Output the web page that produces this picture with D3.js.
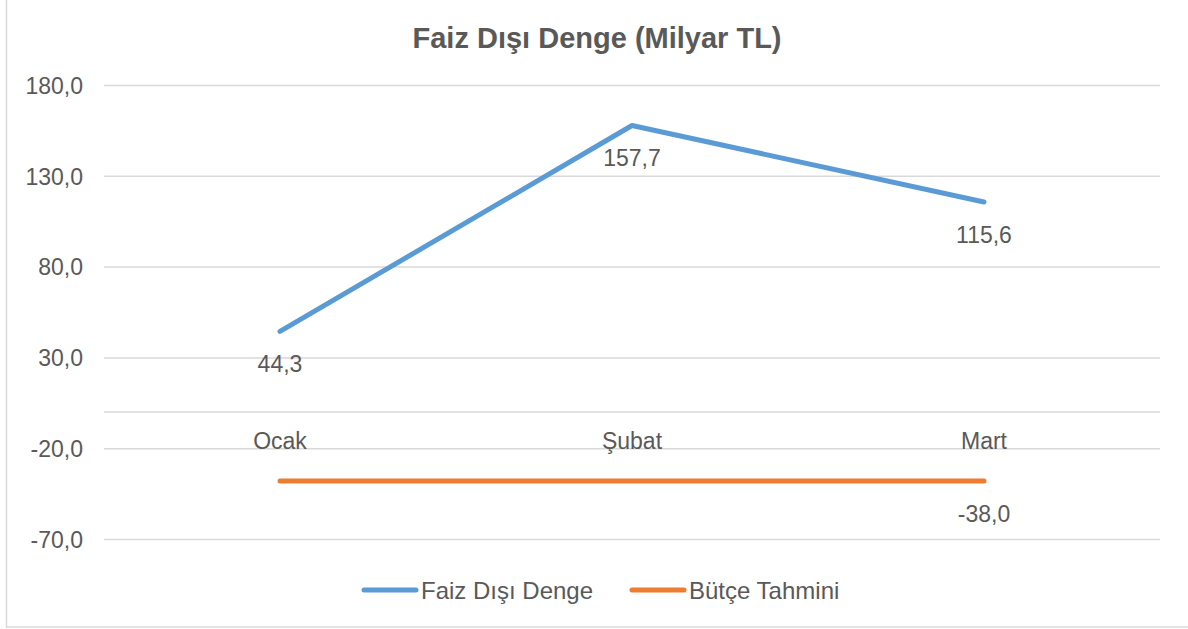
<!DOCTYPE html>
<html>
<head>
<meta charset="utf-8">
<script src="https://cdn.jsdelivr.net/npm/d3@7"></script>
<style>
  body { margin: 0; background: #fff; }
  text { font-family: "Liberation Sans", Arial, sans-serif; fill: #595959; }
</style>
</head>
<body>
<svg id="chart"></svg>
<script>
const categories = ["Ocak", "Şubat", "Mart"];
const faizDisiDenge = [44.3, 157.7, 115.6];
const butceTahmini = [-38.0, -38.0, -38.0];
const yTicks = [180, 130, 80, 30, -20, -70];

const width = 1188, height = 629;
const margin = { top: 85, right: 28, bottom: 90, left: 104 };
// excel style: comma decimal, plain hyphen for minus
const fmt = v => v.toFixed(1).replace(".", ",");

const svg = d3.select("#chart").attr("width", width).attr("height", height);

// outer frame (top and right are cut off in the original)
svg.append("rect")
    .attr("x", 6.5).attr("y", -5)
    .attr("width", width + 10).attr("height", 632)
    .attr("fill", "none").attr("stroke", "#d9d9d9").attr("stroke-width", 1.5);

const x = d3.scaleBand()
    .domain(categories)
    .range([margin.left, width - margin.right]);

const y = d3.scaleLinear()
    .domain([-70, 180])
    .range([539, 85]);

// gridlines + tick labels
const yAxis = svg.append("g")
    .attr("transform", `translate(${margin.left},0)`)
    .call(d3.axisLeft(y).tickValues(yTicks).tickSize(-(width - margin.right - margin.left)).tickFormat(fmt));
yAxis.select(".domain").remove();
yAxis.selectAll(".tick line").attr("stroke", "#d9d9d9").attr("stroke-width", 1.5);
yAxis.selectAll(".tick text")
    .attr("x", -21).attr("dy", "0.36em")
    .attr("font-size", 23).style("fill", "#595959");

// category axis at zero
svg.append("line")
    .attr("x1", margin.left).attr("x2", width - margin.right)
    .attr("y1", y(0)).attr("y2", y(0))
    .attr("stroke", "#d9d9d9").attr("stroke-width", 1.5);
svg.append("g").selectAll("text")
    .data(categories).join("text")
    .attr("x", d => x(d) + x.bandwidth() / 2)
    .attr("y", y(0) + 37)
    .attr("text-anchor", "middle")
    .attr("font-size", 23)
    .text(d => d);

// title
svg.append("text")
    .attr("x", 597).attr("y", 48)
    .attr("text-anchor", "middle")
    .attr("font-size", 29).attr("font-weight", "bold")
    .text("Faiz Dışı Denge (Milyar TL)");

const line = d3.line()
    .x((d, i) => x(categories[i]) + x.bandwidth() / 2)
    .y(d => y(d));

const series = [
    { name: "Faiz Dışı Denge", values: faizDisiDenge, color: "#5b9bd5", labels: [0, 1, 2] },
    { name: "Bütçe Tahmini", values: butceTahmini, color: "#ed7d31", labels: [2] }
];

series.forEach(s => {
    svg.append("path")
        .datum(s.values)
        .attr("d", line)
        .attr("fill", "none")
        .attr("stroke", s.color)
        .attr("stroke-width", 5)
        .attr("stroke-linecap", "round")
        .attr("stroke-linejoin", "round");
    svg.append("g").selectAll("text")
        .data(s.labels).join("text")
        .attr("x", i => x(categories[i]) + x.bandwidth() / 2)
        .attr("y", i => y(s.values[i]) + 41)
        .attr("text-anchor", "middle")
        .attr("font-size", 23)
        .text(i => fmt(s.values[i]));
});

// legend
const legendX = [364, 632];
const legend = svg.append("g").selectAll("g")
    .data(series).join("g")
    .attr("transform", (d, i) => `translate(${legendX[i]},590)`);
legend.append("line")
    .attr("x1", 0).attr("x2", 52)
    .attr("stroke", d => d.color).attr("stroke-width", 5)
    .attr("stroke-linecap", "round");
legend.append("text")
    .attr("x", 57).attr("y", 8.5)
    .attr("font-size", 24)
    .text(d => d.name);
</script>
</body>
</html>
